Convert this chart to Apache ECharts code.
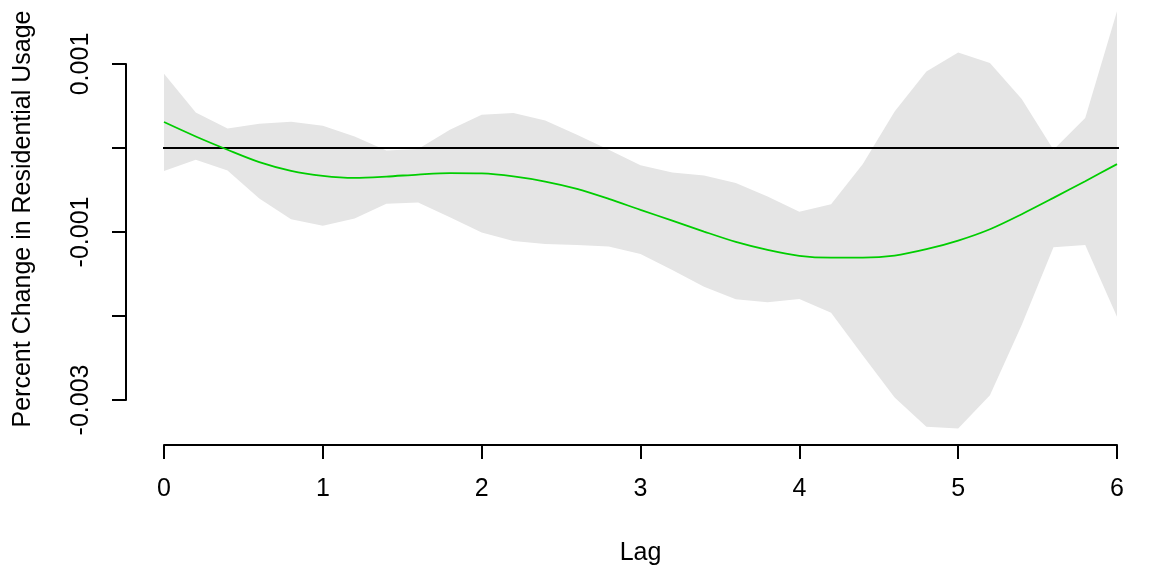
<!DOCTYPE html>
<html>
<head>
<meta charset="utf-8">
<script src="https://cdn.jsdelivr.net/npm/echarts@6/dist/echarts.min.js"></script>
<style>
  html, body { margin: 0; padding: 0; background: #fff; }
  #lag-plot { width: 1152px; height: 571px; }
</style>
</head>
<body>
<div id="lag-plot"></div>
<script>
/************************** data **************************/
var lags = [0, 0.2, 0.4, 0.6, 0.8, 1, 1.2, 1.4, 1.6, 1.8, 2, 2.2, 2.4, 2.6, 2.8, 3,
            3.2, 3.4, 3.6, 3.8, 4, 4.2, 4.4, 4.6, 4.8, 5, 5.2, 5.4, 5.6, 5.8, 6];

// fitted effect (green line)
var fit = [0.309e-3, 0.137e-3, -0.021e-3, -0.168e-3, -0.272e-3, -0.331e-3, -0.355e-3,
           -0.340e-3, -0.316e-3, -0.299e-3, -0.303e-3, -0.338e-3, -0.399e-3, -0.486e-3,
           -0.605e-3, -0.737e-3, -0.864e-3, -0.995e-3, -1.118e-3, -1.213e-3, -1.283e-3,
           -1.305e-3, -1.305e-3, -1.281e-3, -1.205e-3, -1.102e-3, -0.967e-3, -0.788e-3,
           -0.594e-3, -0.395e-3, -0.192e-3];

// confidence band
var upper = [0.884e-3, 0.423e-3, 0.232e-3, 0.288e-3, 0.312e-3, 0.265e-3, 0.137e-3,
             -0.030e-3, -0.013e-3, 0.217e-3, 0.396e-3, 0.416e-3, 0.328e-3, 0.157e-3,
             -0.021e-3, -0.204e-3, -0.292e-3, -0.328e-3, -0.418e-3, -0.578e-3, -0.760e-3,
             -0.670e-3, -0.190e-3, 0.435e-3, 0.912e-3, 1.138e-3, 1.012e-3, 0.583e-3,
             -0.021e-3, 0.356e-3, 1.627e-3];
var lower = [-0.275e-3, -0.141e-3, -0.268e-3, -0.602e-3, -0.848e-3, -0.927e-3, -0.840e-3,
             -0.665e-3, -0.650e-3, -0.824e-3, -1.005e-3, -1.106e-3, -1.142e-3, -1.154e-3,
             -1.174e-3, -1.261e-3, -1.452e-3, -1.651e-3, -1.801e-3, -1.836e-3, -1.797e-3,
             -1.961e-3, -2.470e-3, -2.969e-3, -3.319e-3, -3.338e-3, -2.942e-3, -2.107e-3,
             -1.181e-3, -1.154e-3, -2.008e-3];

// y ticks go -0.003 .. 0.001, R only labels every other one
var yTickLabels = ['-0.003', '', '-0.001', '', '0.001'];
var xTickLabels = ['0', '1', '2', '3', '4', '5', '6'];

// reference line at zero, across the whole plot region
var zeroLine = [[-0.24, 0], [6.24, 0]];

/************************** chart **************************/
var font = 'Liberation Sans, Arial, sans-serif';

function pairs(xs, ys) {
    return xs.map(function (x, i) { return [x, ys[i]]; });
}

// band drawn as one polygon: upper edge left->right, lower edge right->left
function renderBand(params, api) {
    if (params.dataIndex !== 0) return null;
    var pts = [];
    for (var i = 0; i < lags.length; i++) pts.push(api.coord([lags[i], upper[i]]));
    for (var j = lags.length - 1; j >= 0; j--) pts.push(api.coord([lags[j], lower[j]]));
    return {
        type: 'polygon',
        shape: { points: pts },
        style: { fill: '#E5E5E5', stroke: null }
    };
}

var option = {
    animation: false,
    backgroundColor: '#fff',
    grid: {
        left: 164,
        right: 35,
        top: 64,
        bottom: 171,
        outerBoundsMode: 'none'
    },
    xAxis: {
        type: 'value',
        min: 0,
        max: 6,
        interval: 1,
        offset: 45,
        name: 'Lag',
        nameLocation: 'middle',
        nameGap: 96,
        nameTextStyle: { fontFamily: font, fontSize: 25, color: '#000' },
        axisLine: { show: true, onZero: false, lineStyle: { color: '#000', width: 2 } },
        axisTick: { show: true, length: 14, lineStyle: { color: '#000', width: 2 } },
        axisLabel: {
            margin: 32,
            fontFamily: font,
            fontSize: 25,
            color: '#000',
            formatter: function (v, i) { return xTickLabels[i]; }
        },
        splitLine: { show: false }
    },
    yAxis: {
        type: 'value',
        min: -0.003,
        max: 0.001,
        interval: 0.001,
        offset: 38,
        name: 'Percent Change in Residential Usage',
        nameLocation: 'middle',
        nameRotate: 90,
        nameGap: 90,
        nameTextStyle: {
            fontFamily: font, fontSize: 25, color: '#000',
            padding: [0, 0, 0, 26]
        },
        axisLine: { show: true, onZero: false, lineStyle: { color: '#000', width: 2 } },
        axisTick: { show: true, length: 14, lineStyle: { color: '#000', width: 2 } },
        axisLabel: {
            rotate: 90,
            margin: 32,
            fontFamily: font,
            fontSize: 25,
            color: '#000',
            formatter: function (v, i) { return yTickLabels[i]; }
        },
        splitLine: { show: false }
    },
    series: [
        {
            name: 'band',
            type: 'custom',
            data: pairs(lags, upper),
            renderItem: renderBand,
            clip: false,
            silent: true,
            z: 1
        },
        {
            name: 'zero',
            type: 'line',
            data: zeroLine,
            symbol: 'none',
            clip: false,
            lineStyle: { color: '#000', width: 1.8 },
            z: 2
        },
        {
            name: 'fit',
            type: 'line',
            data: pairs(lags, fit),
            smooth: 0.3,
            symbol: 'none',
            clip: false,
            lineStyle: { color: '#00CD00', width: 1.8 },
            z: 3
        }
    ]
};

var lagPlot = echarts.init(document.getElementById('lag-plot'));
lagPlot.setOption(option);
</script>
</body>
</html>
